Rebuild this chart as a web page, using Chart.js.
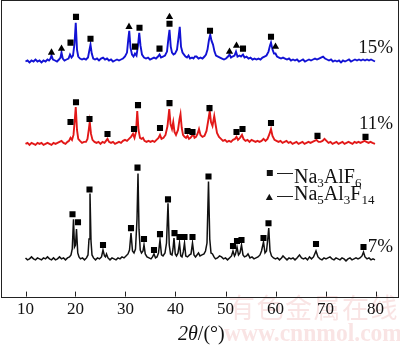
<!DOCTYPE html>
<html>
<head>
<meta charset="utf-8">
<script src="https://cdn.jsdelivr.net/npm/chart.js@4.4.1/dist/chart.umd.min.js"></script>
<style>
  html, body { margin: 0; padding: 0; background: #fff; }
  #xrd { display: block; }
</style>
</head>
<body>
<canvas id="xrd" width="400" height="346"></canvas>
<script>
// XRD patterns, [2theta, intensity above the pattern's own baseline]
var pattern7 = [[10,1],[10.4,-1],[10.8,0],[11.2,2],[11.6,0],[12,-1],[12.4,1],[12.8,0],[13.2,-1],[13.6,1],[14,0],[14.4,2],[14.8,0],[15.2,-1],[15.6,1],[16,-1],[16.4,0],[16.8,2],[17.2,0],[17.6,1],[18,-1],[18.4,1],[18.8,2],[19.1,4],[19.35,10],[19.6,40],[19.8,12],[20,14],[20.2,30],[20.45,6],[20.7,2],[21,0],[21.4,1],[21.8,-1],[22.2,1],[22.5,4],[22.7,20],[22.9,66],[23.1,18],[23.3,4],[23.6,1],[24,-1],[24.4,1],[24.8,0],[25.2,2],[25.5,9],[25.8,3],[26,2],[26.2,5],[26.5,1],[26.9,-1],[27.3,1],[27.7,0],[28.1,-1],[28.5,1],[28.9,0],[29.3,2],[29.7,1],[30.1,3],[30.5,5],[30.8,9],[31.1,26],[31.4,8],[31.7,6],[32,10],[32.3,40],[32.5,86],[32.7,30],[32.95,9],[33.2,6],[33.5,8],[33.7,14],[33.95,5],[34.3,2],[34.7,1],[35.1,0],[35.4,2],[35.7,5],[36,1],[36.3,2],[36.6,6],[36.9,19],[37.2,4],[37.5,3],[37.9,6],[38.2,16],[38.5,56],[38.75,14],[39,5],[39.3,4],[39.5,10],[39.7,21],[39.95,5],[40.2,3],[40.5,6],[40.8,16],[41.05,3],[41.3,2],[41.55,7],[41.8,16],[42.05,3],[42.4,2],[42.8,4],[43.1,5],[43.4,16],[43.7,4],[44,2],[44.3,4],[44.6,6],[44.9,3],[45.3,4],[45.7,5],[46,8],[46.3,16],[46.6,78],[46.85,20],[47.1,6],[47.4,5],[47.7,2],[48,0],[48.4,1],[48.8,3],[49.2,2],[49.6,0],[50,1],[50.4,-1],[50.8,1],[51.2,3],[51.5,8],[51.8,3],[52,5],[52.3,12],[52.6,4],[52.9,6],[53.2,14],[53.5,4],[53.8,2],[54.2,3],[54.5,5],[54.9,1],[55.3,2],[55.7,0],[56.1,1],[56.5,2],[56.9,4],[57.2,8],[57.6,17],[57.9,6],[58.2,8],[58.45,20],[58.65,31],[58.9,8],[59.2,3],[59.6,1],[60,0],[60.4,1],[60.8,-1],[61.2,1],[61.5,3],[61.9,1],[62.3,-1],[62.7,1],[63.1,0],[63.5,1],[63.9,-1],[64.3,1],[64.8,4],[65.2,1],[65.6,0],[66,1],[66.4,-1],[66.8,2],[67.2,0],[67.6,2],[68.1,8],[68.5,2],[68.9,0],[69.3,-1],[69.7,1],[70.1,0],[70.5,1],[70.9,2],[71.3,0],[71.7,-1],[72.1,1],[72.5,0],[72.9,-1],[73.3,1],[73.7,0],[74.1,-2],[74.5,0],[74.9,1],[75.3,-1],[75.7,0],[76.1,1],[76.5,0],[76.9,1],[77.3,3],[77.6,7],[77.9,2],[78.3,0],[78.7,1],[79.1,-1],[79.5,0],[79.9,-1]];

var pattern11 = [[10,0],[10.4,1],[10.8,-1],[11.2,1],[11.6,0],[12,-1],[12.4,1],[12.8,0],[13.2,1],[13.6,-1],[14,0],[14.4,1],[14.8,0],[15.2,-1],[15.6,1],[16,0],[16.4,1],[16.8,2],[17.2,3],[17.6,1],[18,0],[18.4,2],[18.7,3],[19,6],[19.3,4],[19.6,9],[19.85,24],[20.05,37],[20.3,14],[20.55,5],[20.9,3],[21.3,1],[21.7,2],[22.1,2],[22.4,5],[22.65,14],[22.85,22],[23.1,10],[23.4,4],[23.8,2],[24.2,1],[24.6,2],[25,0],[25.4,2],[25.8,1],[26.1,3],[26.4,5],[26.7,2],[27.1,1],[27.5,2],[27.9,0],[28.3,1],[28.7,2],[29.1,1],[29.5,3],[29.9,4],[30.3,3],[30.7,5],[31.1,7],[31.5,10],[31.8,6],[32.1,12],[32.35,33],[32.6,14],[32.9,6],[33.2,5],[33.5,6],[33.8,3],[34.2,2],[34.6,3],[35,2],[35.4,3],[35.8,2],[36.2,4],[36.6,6],[36.9,9],[37.2,5],[37.6,6],[38,9],[38.4,18],[38.75,35],[39,20],[39.3,15],[39.55,22],[39.8,12],[40.1,9],[40.5,14],[40.8,25],[41,30],[41.25,16],[41.5,9],[41.8,7],[42.1,6],[42.4,8],[42.7,5],[43,6],[43.3,8],[43.55,10],[43.8,6],[44.1,7],[44.4,10],[44.7,15],[45,9],[45.4,7],[45.8,8],[46.2,13],[46.5,22],[46.85,33],[47.1,22],[47.4,18],[47.75,28],[48,20],[48.3,11],[48.7,7],[49.1,5],[49.5,3],[49.9,4],[50.3,2],[50.7,3],[51.1,2],[51.5,4],[51.9,5],[52.2,7],[52.5,4],[52.9,6],[53.3,9],[53.6,5],[54,3],[54.4,4],[54.8,2],[55.2,4],[55.6,3],[56,2],[56.4,3],[56.8,2],[57.2,3],[57.6,5],[58,3],[58.4,5],[58.8,10],[59.1,15],[59.4,8],[59.8,4],[60.2,3],[60.6,2],[61,3],[61.4,1],[61.8,2],[62.2,3],[62.6,1],[63,2],[63.4,0],[63.8,1],[64.2,2],[64.6,0],[65,1],[65.4,2],[65.8,0],[66.2,1],[66.6,2],[67,1],[67.4,2],[67.8,3],[68.2,4],[68.6,2],[69,2],[69.4,3],[69.8,5],[70.2,3],[70.6,1],[71,2],[71.4,0],[71.8,1],[72.2,2],[72.6,0],[73,1],[73.4,2],[73.8,0],[74.2,1],[74.6,2],[75,1],[75.4,0],[75.8,2],[76.2,1],[76.6,2],[77,1],[77.4,2],[77.8,3],[78.2,2],[78.6,1],[79,2],[79.4,1],[79.9,0]];

var pattern15 = [[10,0],[10.4,1],[10.8,-1],[11.2,1],[11.6,0],[12,2],[12.4,0],[12.8,1],[13.2,-1],[13.6,1],[14,0],[14.4,2],[14.7,1],[15,3],[15.2,6],[15.5,2],[15.9,1],[16.3,0],[16.7,2],[17,4],[17.2,9],[17.45,3],[17.8,1],[18.2,2],[18.6,3],[18.9,7],[19.2,4],[19.5,6],[19.8,18],[20.05,39],[20.3,12],[20.55,5],[20.9,3],[21.3,2],[21.7,3],[22.1,2],[22.5,4],[22.8,12],[23,17],[23.25,8],[23.55,3],[23.9,2],[24.3,3],[24.7,1],[25.1,3],[25.5,4],[25.9,2],[26.3,3],[26.7,1],[27.1,2],[27.5,0],[27.9,1],[28.3,2],[28.7,1],[29.1,2],[29.5,3],[29.9,5],[30.3,9],[30.55,22],[30.75,31],[31,14],[31.3,7],[31.6,5],[31.9,8],[32.2,6],[32.5,16],[32.75,29],[33,16],[33.3,7],[33.7,4],[34.1,3],[34.5,4],[34.9,2],[35.3,3],[35.7,4],[36.1,3],[36.5,5],[36.8,7],[37.1,4],[37.5,5],[37.9,6],[38.3,10],[38.6,24],[38.8,32],[39.05,15],[39.3,9],[39.6,7],[39.9,8],[40.3,12],[40.6,24],[40.85,35],[41.1,15],[41.4,9],[41.7,7],[42,5],[42.3,4],[42.6,6],[42.9,3],[43.3,4],[43.6,3],[43.9,5],[44.2,5],[44.6,3],[45,4],[45.4,3],[45.8,5],[46.1,7],[46.4,12],[46.7,22],[46.95,27],[47.2,21],[47.5,17],[47.8,10],[48.1,6],[48.5,5],[48.9,4],[49.3,3],[49.7,2],[50.1,3],[50.5,5],[50.8,7],[51.1,4],[51.4,5],[51.8,6],[52.1,10],[52.4,5],[52.8,6],[53.1,5],[53.5,7],[53.8,4],[54.2,5],[54.6,3],[55,4],[55.4,2],[55.8,3],[56.2,2],[56.6,3],[57,2],[57.4,4],[57.8,5],[58.2,6],[58.6,10],[58.9,16],[59.1,19],[59.4,12],[59.7,8],[60,8],[60.3,5],[60.7,4],[61.1,3],[61.5,4],[61.9,3],[62.3,2],[62.7,3],[63.1,1],[63.5,2],[63.9,1],[64.3,2],[64.7,0],[65.1,1],[65.5,2],[65.9,0],[66.3,1],[66.7,2],[67.1,1],[67.5,2],[67.9,3],[68.3,2],[68.7,3],[69.1,4],[69.5,5],[69.9,3],[70.3,2],[70.7,1],[71.1,2],[71.5,0],[71.9,1],[72.3,0],[72.7,1],[73.1,-1],[73.5,1],[73.9,0],[74.3,1],[74.7,2],[75.1,0],[75.5,1],[75.9,2],[76.3,1],[76.7,2],[77.1,1],[77.5,2],[77.9,1],[78.3,2],[78.7,1],[79.1,2],[79.5,1],[79.9,0]];

// phase marks [2theta, height above baseline]
var na3alf6_7 = [[19.4,45],[20.5,37],[22.8,70],[25.5,14],[31.1,31],[32.4,92],[33.7,20],[35.7,9],[36.9,25],[38.5,60],[39.8,26],[40.8,22],[41.8,22],[43.4,22],[46.6,83],[51.5,13],[52.3,18],[53.2,19],[57.6,21],[58.6,36],[68.1,15],[77.6,12]];
var na3alf6_11 = [[19.0,22],[20.1,42],[22.8,25],[26.4,10],[31.7,15],[32.5,39],[36.9,16],[38.8,41],[42.4,13],[43.4,12],[46.8,36],[52.2,12],[53.4,15],[59.1,21],[68.4,8],[78.0,7]];
var na3alf6_15 = [[19.0,19],[20.1,45],[23.0,23],[31.9,15],[32.8,34],[36.8,13],[38.8,38],[46.9,31],[53.5,13],[59.1,25]];
var na5al3f14_15 = [[15.2,9],[17.2,13],[30.7,35],[38.8,45],[50.8,10],[52.2,16],[60.0,15]];

var xTicks = [10, 20, 30, 40, 50, 60, 70, 80];
var seriesLabels = ['7%', '11%', '15%'];

// vertical stacking of the three patterns
var offset7 = 38, offset11 = 154, offset15 = 237;

var serif = "'Liberation Serif', 'Times New Roman', serif";

function toPoints(arr, offset) {
    return arr.map(function (p) { return { x: p[0], y: p[1] + offset }; });
}

function lineSet(label, arr, offset, color, width) {
    return {
        type: 'line', label: label, data: toPoints(arr, offset),
        borderColor: color, borderWidth: width, pointRadius: 0,
        tension: 0, fill: false, order: 2
    };
}

function markSet(label, arr, offset, style) {
    return {
        type: 'scatter', label: label, data: toPoints(arr, offset),
        pointStyle: style, pointRadius: style === 'rect' ? 4.3 : 4.2,
        backgroundColor: '#000', borderWidth: 0, order: 0
    };
}

// subscripted formula, parts alternate normal / subscript
function drawFormula(ctx, x, y, parts) {
    for (var i = 0; i < parts.length; i++) {
        var sub = i % 2 === 1;
        ctx.font = (sub ? '13px ' : '20px ') + serif;
        ctx.fillText(parts[i], x, sub ? y + 4 : y);
        x += ctx.measureText(parts[i]).width;
    }
}

var decorations = {
    id: 'decorations',
    beforeDraw: function (chart) {
        var ctx = chart.ctx;
        ctx.save();
        // site watermark
        ctx.fillStyle = 'rgba(232,150,150,0.26)';
        ctx.textBaseline = 'alphabetic';
        ctx.font = "27px 'Noto Sans CJK SC'";
        var wm = '有色金属在线';
        for (var i = 0; i < wm.length; i++) {
            ctx.fillText(wm[i], 228 + i * 28.5, 318);
        }
        ctx.font = 'bold 26px ' + serif;
        ctx.fillText('www.cnnmol.com', 224, 341, 178);
        ctx.restore();
    },
    afterDraw: function (chart) {
        var ctx = chart.ctx;
        var a = chart.chartArea;
        var xs = chart.scales.x;
        ctx.save();
        ctx.strokeStyle = '#222';
        ctx.lineWidth = 1;
        ctx.strokeRect(Math.round(a.left) + 0.5, Math.round(a.top) + 0.5,
            Math.round(a.right - a.left) - 1, Math.round(a.bottom - a.top));
        // inward tick marks
        ctx.beginPath();
        xTicks.forEach(function (t) {
            var px = Math.round(xs.getPixelForValue(t)) + 0.5;
            ctx.moveTo(px, a.bottom);
            ctx.lineTo(px, a.bottom - 5);
        });
        ctx.stroke();

        ctx.fillStyle = '#111';
        ctx.textBaseline = 'alphabetic';
        // sample labels
        ctx.font = '19px ' + serif;
        ctx.textAlign = 'right';
        ctx.fillText(seriesLabels[2], 393, 53);
        ctx.fillText(seriesLabels[1], 393, 129);
        ctx.fillText(seriesLabels[0], 393, 252);

        // phase key
        ctx.textAlign = 'left';
        ctx.fillRect(266.8, 170, 6, 6);
        ctx.beginPath();
        ctx.moveTo(269.3, 193.8);
        ctx.lineTo(272.8, 200);
        ctx.lineTo(265.8, 200);
        ctx.closePath();
        ctx.fill();
        ctx.beginPath();
        ctx.moveTo(277, 173.5); ctx.lineTo(293, 173.5);
        ctx.moveTo(277, 196.5); ctx.lineTo(293, 196.5);
        ctx.stroke();
        drawFormula(ctx, 294, 182.5, ['Na', '3', 'AlF', '6']);
        drawFormula(ctx, 294, 199.5, ['Na', '5', 'Al', '3', 'F', '14']);

        // axis title: 2θ/(°)
        var tx = 178;
        ctx.font = 'italic 20px ' + serif;
        ctx.fillText('2θ', tx, 340);
        tx += ctx.measureText('2θ').width;
        ctx.font = '20px ' + serif;
        ctx.fillText('/(°)', tx, 340);
        ctx.restore();
    }
};

var ctx = document.getElementById('xrd').getContext('2d');
var xrdChart = new Chart(ctx, {
    data: {
        datasets: [
            markSet('Na3AlF6 15%', na3alf6_15, offset15, 'rect'),
            markSet('Na5Al3F14 15%', na5al3f14_15, offset15, 'triangle'),
            markSet('Na3AlF6 11%', na3alf6_11, offset11, 'rect'),
            markSet('Na3AlF6 7%', na3alf6_7, offset7, 'rect'),
            lineSet('15%', pattern15, offset15, '#1212d4', 1.9),
            lineSet('11%', pattern11, offset11, '#e21818', 1.9),
            lineSet('7%', pattern7, offset7, '#111', 1.5)
        ]
    },
    options: {
        responsive: false,
        animation: false,
        layout: { autoPadding: false, padding: { left: 1, right: 1, top: 0, bottom: 23 } },
        plugins: { legend: { display: false }, tooltip: { enabled: false } },
        scales: {
            x: {
                type: 'linear', min: 5.1, max: 84.7,
                afterBuildTicks: function (s) {
                    s.ticks = xTicks.map(function (v) { return { value: v }; });
                },
                // keep the plot box flush with the canvas edges
                afterFit: function (s) {
                    s.paddingLeft = 0;
                    s.paddingRight = 0;
                },
                grid: { display: false, drawTicks: false },
                border: { display: false },
                ticks: { padding: 3, color: '#111', maxRotation: 0,
                    font: { family: serif, size: 17 } }
            },
            y: { display: false, min: 0, max: 299 }
        }
    },
    plugins: [decorations]
});
</script>
</body>
</html>
